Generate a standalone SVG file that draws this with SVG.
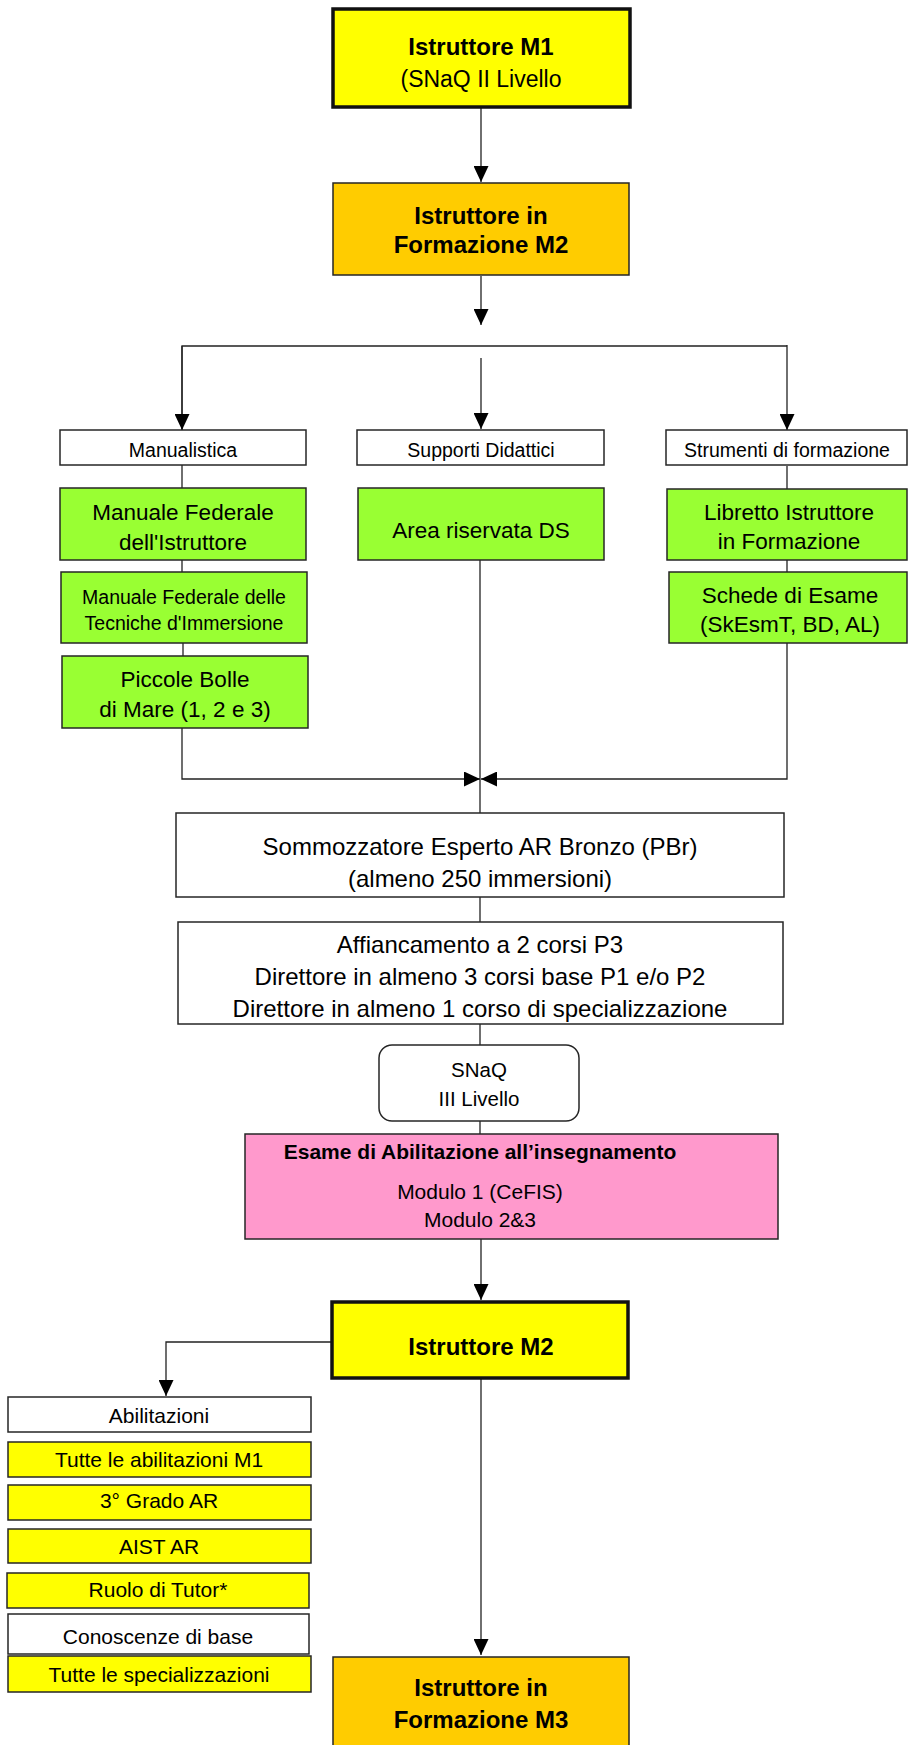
<svg xmlns="http://www.w3.org/2000/svg" width="908" height="1745" viewBox="0 0 908 1745">
<defs>
<marker id="ah" markerUnits="userSpaceOnUse" markerWidth="16" markerHeight="15" refX="16" refY="7.5" orient="auto">
<path d="M0,0 L16,7.5 L0,15 z" fill="#000"/>
</marker>
<style>
text{font-family:"Liberation Sans",Arial,sans-serif;fill:#000;text-anchor:middle}
.b{font-weight:bold}
.box{stroke:#262626;stroke-width:1.5}
.thick{stroke:#111;stroke-width:3.5}
.yel{fill:#FFFF00}
.ora{fill:#FFCC00}
.grn{fill:#99FF33}
.pnk{fill:#FF99CC}
.wht{fill:#FFFFFF}
.c{fill:none;stroke:#222;stroke-width:1.3}
.t24{font-size:24px}
.t23{font-size:23px}
.t22{font-size:22.5px}
.t21{font-size:21px}
.t20{font-size:20.5px}
.t19{font-size:19.5px}
</style>
</defs>
<rect width="908" height="1745" fill="#fff"/>

<g id="connectors">
<line class="c" x1="481" y1="108" x2="481" y2="182" marker-end="url(#ah)"/>
<line class="c" x1="481" y1="276" x2="481" y2="325" marker-end="url(#ah)"/>
<polyline class="c" points="182,430 182,346 787,346"/>
<line class="c" x1="182" y1="346" x2="182" y2="430" marker-end="url(#ah)"/>
<line class="c" x1="787" y1="345" x2="787" y2="430" marker-end="url(#ah)"/>
<line class="c" x1="481" y1="358" x2="481" y2="429" marker-end="url(#ah)"/>
<line class="c" x1="182" y1="465" x2="182" y2="488"/>
<line class="c" x1="182" y1="560" x2="182" y2="572"/>
<line class="c" x1="183" y1="643" x2="183" y2="656"/>
<line class="c" x1="787" y1="466" x2="787" y2="489"/>
<line class="c" x1="787" y1="560" x2="787" y2="572"/>
<polyline class="c" points="182,728 182,779 480,779" marker-end="url(#ah)"/>
<polyline class="c" points="787,643 787,779 481,779" marker-end="url(#ah)"/>
<line class="c" x1="480" y1="560" x2="480" y2="813"/>
<line class="c" x1="480" y1="897" x2="480" y2="922"/>
<line class="c" x1="480" y1="1024" x2="480" y2="1045"/>
<line class="c" x1="480" y1="1121" x2="480" y2="1134"/>
<line class="c" x1="481" y1="1239" x2="481" y2="1300" marker-end="url(#ah)"/>
<polyline class="c" points="332,1342 166,1342 166,1396" marker-end="url(#ah)"/>
<line class="c" x1="481" y1="1379" x2="481" y2="1655" marker-end="url(#ah)"/>
</g>

<g id="istruttore-m1">
<rect class="yel thick" x="333" y="9" width="297" height="98"/>
<text class="b t24" x="481" y="55">Istruttore M1</text>
<text class="t23" x="481" y="87">(SNaQ II Livello</text>
</g>

<g id="formazione-m2">
<rect class="ora box" x="333" y="183" width="296" height="92"/>
<text class="b t24" x="481" y="224">Istruttore in</text>
<text class="b t24" x="481" y="253">Formazione M2</text>
</g>

<g id="manualistica">
<rect class="wht box" x="60" y="430" width="246" height="35"/>
<text class="t19" x="183" y="457">Manualistica</text>
</g>
<g id="supporti">
<rect class="wht box" x="357" y="430" width="247" height="35"/>
<text class="t19" x="481" y="457">Supporti Didattici</text>
</g>
<g id="strumenti">
<rect class="wht box" x="666" y="430" width="241" height="35"/>
<text class="t19" x="787" y="457">Strumenti di formazione</text>
</g>

<g id="manuale-istruttore">
<rect class="grn box" x="60" y="488" width="246" height="72"/>
<text class="t22" x="183" y="520">Manuale Federale</text>
<text class="t22" x="183" y="550">dell'Istruttore</text>
</g>
<g id="manuale-tecniche">
<rect class="grn box" x="61" y="572" width="246" height="71"/>
<text class="t19" x="184" y="604">Manuale Federale delle</text>
<text class="t19" x="184" y="630">Tecniche d'Immersione</text>
</g>
<g id="piccole-bolle">
<rect class="grn box" x="62" y="656" width="246" height="72"/>
<text class="t22" x="185" y="687">Piccole Bolle</text>
<text class="t22" x="185" y="717">di Mare (1, 2 e 3)</text>
</g>

<g id="area-riservata">
<rect class="grn box" x="358" y="488" width="246" height="72"/>
<text class="t22" x="481" y="538">Area riservata DS</text>
</g>

<g id="libretto">
<rect class="grn box" x="667" y="489" width="240" height="71"/>
<text class="t22" x="789" y="520">Libretto Istruttore</text>
<text class="t22" x="789" y="549">in Formazione</text>
</g>
<g id="schede">
<rect class="grn box" x="669" y="572" width="238" height="71"/>
<text class="t22" x="790" y="603">Schede di Esame</text>
<text class="t22" x="790" y="632">(SkEsmT, BD, AL)</text>
</g>

<g id="sommozzatore">
<rect class="wht box" x="176" y="813" width="608" height="84"/>
<text class="t24" x="480" y="855">Sommozzatore Esperto AR Bronzo (PBr)</text>
<text class="t24" x="480" y="887">(almeno 250 immersioni)</text>
</g>

<g id="affiancamento">
<rect class="wht box" x="178" y="922" width="605" height="102"/>
<text class="t24" x="480" y="953">Affiancamento a 2 corsi P3</text>
<text class="t24" x="480" y="985">Direttore in almeno 3 corsi base P1 e/o P2</text>
<text class="t24" x="480" y="1017">Direttore in almeno 1 corso di specializzazione</text>
</g>

<g id="snaq">
<rect class="wht box" x="379" y="1045" width="200" height="76" rx="13" ry="13"/>
<text class="t20" x="479" y="1077">SNaQ</text>
<text class="t20" x="479" y="1106">III Livello</text>
</g>

<g id="esame">
<rect class="pnk box" x="245" y="1134" width="533" height="105"/>
<text class="b t21" x="480" y="1159">Esame di Abilitazione all’insegnamento</text>
<text class="t21" x="480" y="1199">Modulo 1 (CeFIS)</text>
<text class="t21" x="480" y="1227">Modulo 2&amp;3</text>
</g>

<g id="istruttore-m2">
<rect class="yel thick" x="332" y="1302" width="296" height="76"/>
<text class="b t24" x="481" y="1355">Istruttore M2</text>
</g>

<g id="abilitazioni">
<rect class="wht box" x="8" y="1397" width="303" height="35"/>
<text class="t21" x="159" y="1423">Abilitazioni</text>
</g>
<g id="tutte-m1">
<rect class="yel box" x="8" y="1442" width="303" height="35"/>
<text class="t21" x="159" y="1467">Tutte le abilitazioni M1</text>
</g>
<g id="grado-ar">
<rect class="yel box" x="8" y="1485" width="303" height="35"/>
<text class="t21" x="159" y="1508">3° Grado AR</text>
</g>
<g id="aist-ar">
<rect class="yel box" x="8" y="1529" width="303" height="34"/>
<text class="t21" x="159" y="1554">AIST AR</text>
</g>
<g id="tutor">
<rect class="yel box" x="7" y="1573" width="302" height="35"/>
<text class="t21" x="158" y="1597">Ruolo di Tutor*</text>
</g>
<g id="conoscenze">
<rect class="wht box" x="8" y="1614" width="301" height="40"/>
<text class="t21" x="158" y="1644">Conoscenze di base</text>
</g>
<g id="specializzazioni">
<rect class="yel box" x="8" y="1656" width="303" height="36"/>
<text class="t21" x="159" y="1682">Tutte le specializzazioni</text>
</g>

<g id="formazione-m3">
<rect class="ora box" x="333" y="1657" width="296" height="110"/>
<text class="b t24" x="481" y="1696">Istruttore in</text>
<text class="b t24" x="481" y="1728">Formazione M3</text>
</g>
</svg>
